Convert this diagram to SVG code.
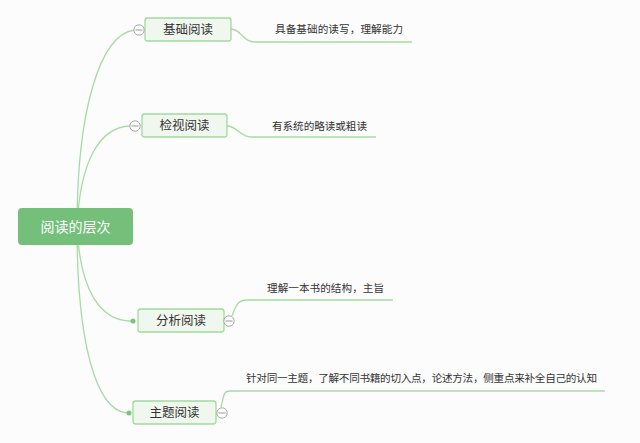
<svg xmlns="http://www.w3.org/2000/svg" width="640" height="443" viewBox="0 0 640 443">
<style>
text{font-family:"Noto Sans CJK SC","Noto Sans",sans-serif;fill:#333}
.conn{fill:none;stroke:#a6dba3;stroke-width:1.3}
.node rect{fill:#eff7ee;stroke:#a2d99e;stroke-width:1.3}
.lbl{font-size:12.5px;text-anchor:middle}
.desc{font-size:10.6px}
.col circle{fill:#fff;stroke:#aaa;stroke-width:1}
.col line{stroke:#999;stroke-width:1}
</style>
<rect width="640" height="443" fill="#fcfcfc"/>
<g id="connectors">
<path class="conn" d="M77 227 C77 110 100 35 134 30"/>
<path class="conn" d="M77 227 C80 160 100 127 130 126"/>
<path class="conn" d="M77 227 C80 290 100 321 131 321"/>
<path class="conn" d="M77 227 C77 340 95 410 127 413"/>
<path class="conn" d="M231 29 C241 29 243 42 254 42 L412 42"/>
<path class="conn" d="M227 126 C237 126 240 137 251 137 L376 137"/>
<path class="conn" d="M232 316 C236 305 238 300 247 300 L393 300"/>
<path class="conn" d="M221 407 C224 396 223 391 230 391 L605 391"/>
<circle cx="133" cy="321" r="2.5" fill="#7cc47a"/>
<circle cx="129" cy="413" r="2.5" fill="#7cc47a"/>
</g>
<g id="root">
<rect x="18" y="208" width="115" height="37" rx="4" fill="#74bf79"/>
<text x="75.5" y="231.5" font-size="14" text-anchor="middle" style="fill:#fff">阅读的层次</text>
</g>
<g id="n1" class="node">
<rect x="145" y="18" width="86" height="23" rx="2.5"/>
<text class="lbl" x="188" y="34">基础阅读</text>
<g class="col"><circle cx="139" cy="30" r="5.2"/><line x1="135.5" y1="30" x2="142.5" y2="30"/></g>
</g>
<g id="d1"><text class="desc" x="275" y="33" textLength="128" lengthAdjust="spacing">具备基础的读写，理解能力</text></g>
<g id="n2" class="node">
<rect x="142" y="114" width="85" height="23" rx="2.5"/>
<text class="lbl" x="184.5" y="130">检视阅读</text>
<g class="col"><circle cx="135" cy="126" r="5.2"/><line x1="131.5" y1="126" x2="138.5" y2="126"/></g>
</g>
<g id="d2"><text class="desc" x="272" y="130" textLength="95" lengthAdjust="spacing">有系统的略读或粗读</text></g>
<g id="n3" class="node">
<rect x="138" y="309" width="86" height="23" rx="2.5"/>
<text class="lbl" x="181" y="325">分析阅读</text>
<g class="col"><circle cx="229" cy="321" r="5.2"/><line x1="225.5" y1="321" x2="232.5" y2="321"/></g>
</g>
<g id="d3"><text class="desc" x="267" y="292" textLength="117" lengthAdjust="spacing">理解一本书的结构，主旨</text></g>
<g id="n4" class="node">
<rect x="133" y="401" width="83" height="23" rx="2.5"/>
<text class="lbl" x="174.5" y="417">主题阅读</text>
<g class="col"><circle cx="222" cy="413" r="5.2"/><line x1="218.5" y1="413" x2="225.5" y2="413"/></g>
</g>
<g id="d4"><text class="desc" x="246" y="382" textLength="351" lengthAdjust="spacing">针对同一主题，了解不同书籍的切入点，论述方法，侧重点来补全自己的认知</text></g>
</svg>
